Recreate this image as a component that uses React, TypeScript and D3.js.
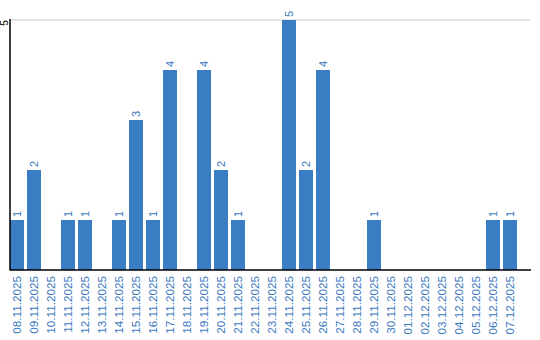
import React from "react";
import * as d3 from "d3";

const dates = [
  "08.11.2025","09.11.2025","10.11.2025","11.11.2025","12.11.2025","13.11.2025",
  "14.11.2025","15.11.2025","16.11.2025","17.11.2025","18.11.2025","19.11.2025",
  "20.11.2025","21.11.2025","22.11.2025","23.11.2025","24.11.2025","25.11.2025",
  "26.11.2025","27.11.2025","28.11.2025","29.11.2025","30.11.2025","01.12.2025",
  "02.12.2025","03.12.2025","04.12.2025","05.12.2025","06.12.2025","07.12.2025",
];
const counts = [1,2,0,1,1,0,1,3,1,4,0,4,2,1,0,0,5,2,4,0,0,1,0,0,0,0,0,0,1,1];
const yTicks = [5];

const W = 540, H = 340;
const BAR = "#3b7dc3";
const LABEL = "#3a78c0";
const FONT = "'Liberation Sans', Arial, sans-serif";

export default function App() {
  const x = d3.scaleBand<string>().domain(dates).range([8.5, 518.5]).paddingInner(3 / 17).paddingOuter(0.088);
  const y = d3.scaleLinear().domain([0, 5]).range([270, 20]);
  return (
    <svg width={W} height={H} style={{ position: "absolute", left: 0, top: 0 }} fontFamily={FONT}>
      {yTicks.map((t) => (
        <g key={t}>
          <line x1={10} x2={530} y1={y(t)} y2={y(t)} stroke="#c8c8c8" strokeWidth={1} />
          <text transform={`translate(8,${y(t) + 3}) rotate(-90)`} textAnchor="middle" fontSize={10} fill="#000">{t}</text>
        </g>
      ))}
      {dates.map((d, i) => {
        const v = counts[i];
        const bx = x(d)!;
        const cx = bx + x.bandwidth() / 2;
        return (
          <g key={d}>
            {v > 0 && <rect x={bx} y={y(v)} width={x.bandwidth()} height={y(0) - y(v)} fill={BAR} />}
            {v > 0 && (
              <text transform={`translate(${cx + 4},${y(v) - 3}) rotate(-90)`} textAnchor="start" fontSize={11} fill={LABEL}>{v}</text>
            )}
            <text transform={`translate(${cx + 4},276) rotate(-90)`} textAnchor="end" fontSize={11.7} fill={LABEL}>{d}</text>
          </g>
        );
      })}
      <line x1={10} x2={10} y1={19} y2={270.5} stroke="#000" strokeWidth={1.5} />
      <line x1={10} x2={531} y1={270} y2={270} stroke="#000" strokeWidth={1.5} />
    </svg>
  );
}
